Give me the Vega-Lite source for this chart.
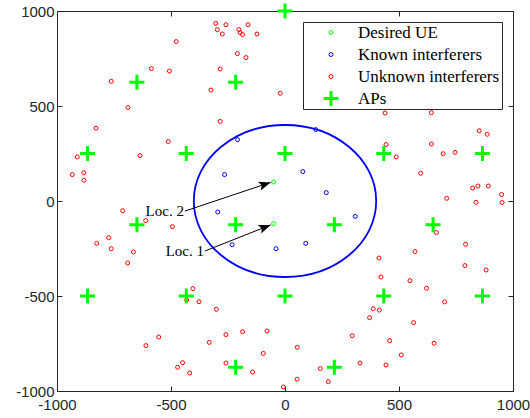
{
  "$schema": "https://vega.github.io/schema/vega-lite/v6.json",
  "autosize": "none",
  "padding": {"left": 57, "top": 11, "right": 17, "bottom": 27},
  "width": 456,
  "height": 380,
  "background": "white",
  "config": {
    "view": {"stroke": "#262626", "strokeWidth": 1},
    "axis": {
      "domain": false, "grid": false, "title": null,
      "tickSize": -5, "tickColor": "#262626", "tickWidth": 1,
      "labelFont": "Liberation Sans", "labelFontSize": 15, "labelColor": "#262626",
      "labelPadding": 8, "labelFlush": false, "labelOverlap": false
    },
    "legend": {
      "orient": "top-right", "offset": 11, "title": null,
      "fillColor": "white", "strokeColor": "#262626", "strokeWidth": 1,
      "padding": 2, "symbolOffset": 17, "labelOffset": 18, "rowPadding": 4, "clipHeight": 17,
      "labelFont": "Liberation Serif", "labelFontSize": 17, "labelColor": "black",
      "labelLimit": 400
    }
  },
  "datasets": {
    "points": [
      {"x": -50, "y": 100, "type": "Desired UE"},
      {"x": -50, "y": -119, "type": "Desired UE"},
      {"x": -208, "y": 323, "type": "Known interferers"},
      {"x": -265, "y": 139, "type": "Known interferers"},
      {"x": 135, "y": 376, "type": "Known interferers"},
      {"x": 78, "y": 155, "type": "Known interferers"},
      {"x": 181, "y": 44, "type": "Known interferers"},
      {"x": 308, "y": -81, "type": "Known interferers"},
      {"x": 91, "y": -223, "type": "Known interferers"},
      {"x": -39, "y": -251, "type": "Known interferers"},
      {"x": -295, "y": -58, "type": "Known interferers"},
      {"x": -232, "y": -230, "type": "Known interferers"},
      {"x": -304, "y": 935, "type": "Unknown interferers"},
      {"x": -297, "y": 902, "type": "Unknown interferers"},
      {"x": -275, "y": 879, "type": "Unknown interferers"},
      {"x": -259, "y": 928, "type": "Unknown interferers"},
      {"x": -202, "y": 902, "type": "Unknown interferers"},
      {"x": -197, "y": 886, "type": "Unknown interferers"},
      {"x": -186, "y": 876, "type": "Unknown interferers"},
      {"x": -162, "y": 928, "type": "Unknown interferers"},
      {"x": -123, "y": 879, "type": "Unknown interferers"},
      {"x": -477, "y": 839, "type": "Unknown interferers"},
      {"x": -209, "y": 776, "type": "Unknown interferers"},
      {"x": -171, "y": 755, "type": "Unknown interferers"},
      {"x": -586, "y": 697, "type": "Unknown interferers"},
      {"x": -507, "y": 684, "type": "Unknown interferers"},
      {"x": -284, "y": 695, "type": "Unknown interferers"},
      {"x": -762, "y": 630, "type": "Unknown interferers"},
      {"x": -325, "y": 584, "type": "Unknown interferers"},
      {"x": -689, "y": 492, "type": "Unknown interferers"},
      {"x": -284, "y": 419, "type": "Unknown interferers"},
      {"x": -829, "y": 383, "type": "Unknown interferers"},
      {"x": -512, "y": 313, "type": "Unknown interferers"},
      {"x": -911, "y": 232, "type": "Unknown interferers"},
      {"x": -636, "y": 239, "type": "Unknown interferers"},
      {"x": -933, "y": 139, "type": "Unknown interferers"},
      {"x": -883, "y": 149, "type": "Unknown interferers"},
      {"x": -882, "y": 109, "type": "Unknown interferers"},
      {"x": -21, "y": 567, "type": "Unknown interferers"},
      {"x": 439, "y": 463, "type": "Unknown interferers"},
      {"x": 642, "y": 465, "type": "Unknown interferers"},
      {"x": 667, "y": 498, "type": "Unknown interferers"},
      {"x": 852, "y": 370, "type": "Unknown interferers"},
      {"x": 887, "y": 351, "type": "Unknown interferers"},
      {"x": 443, "y": 297, "type": "Unknown interferers"},
      {"x": 488, "y": 232, "type": "Unknown interferers"},
      {"x": 642, "y": 300, "type": "Unknown interferers"},
      {"x": 694, "y": 249, "type": "Unknown interferers"},
      {"x": 746, "y": 256, "type": "Unknown interferers"},
      {"x": 595, "y": 146, "type": "Unknown interferers"},
      {"x": 823, "y": 68, "type": "Unknown interferers"},
      {"x": 846, "y": 79, "type": "Unknown interferers"},
      {"x": 892, "y": 79, "type": "Unknown interferers"},
      {"x": 950, "y": 34, "type": "Unknown interferers"},
      {"x": 709, "y": 14, "type": "Unknown interferers"},
      {"x": 838, "y": -7, "type": "Unknown interferers"},
      {"x": 952, "y": -8, "type": "Unknown interferers"},
      {"x": 664, "y": -166, "type": "Unknown interferers"},
      {"x": 792, "y": -228, "type": "Unknown interferers"},
      {"x": 570, "y": -266, "type": "Unknown interferers"},
      {"x": 412, "y": -300, "type": "Unknown interferers"},
      {"x": 789, "y": -340, "type": "Unknown interferers"},
      {"x": 882, "y": -363, "type": "Unknown interferers"},
      {"x": 421, "y": -400, "type": "Unknown interferers"},
      {"x": 548, "y": -419, "type": "Unknown interferers"},
      {"x": 621, "y": -459, "type": "Unknown interferers"},
      {"x": 700, "y": -531, "type": "Unknown interferers"},
      {"x": 387, "y": -567, "type": "Unknown interferers"},
      {"x": 414, "y": -574, "type": "Unknown interferers"},
      {"x": 371, "y": -614, "type": "Unknown interferers"},
      {"x": 564, "y": -640, "type": "Unknown interferers"},
      {"x": 295, "y": -709, "type": "Unknown interferers"},
      {"x": 459, "y": -735, "type": "Unknown interferers"},
      {"x": 654, "y": -749, "type": "Unknown interferers"},
      {"x": 54, "y": -770, "type": "Unknown interferers"},
      {"x": 510, "y": -810, "type": "Unknown interferers"},
      {"x": 329, "y": -853, "type": "Unknown interferers"},
      {"x": 443, "y": -863, "type": "Unknown interferers"},
      {"x": 155, "y": -882, "type": "Unknown interferers"},
      {"x": 53, "y": -938, "type": "Unknown interferers"},
      {"x": 190, "y": -951, "type": "Unknown interferers"},
      {"x": -7, "y": -979, "type": "Unknown interferers"},
      {"x": -79, "y": -684, "type": "Unknown interferers"},
      {"x": -95, "y": -802, "type": "Unknown interferers"},
      {"x": -712, "y": -51, "type": "Unknown interferers"},
      {"x": -611, "y": -103, "type": "Unknown interferers"},
      {"x": -494, "y": -135, "type": "Unknown interferers"},
      {"x": -773, "y": -193, "type": "Unknown interferers"},
      {"x": -826, "y": -223, "type": "Unknown interferers"},
      {"x": -762, "y": -251, "type": "Unknown interferers"},
      {"x": -665, "y": -268, "type": "Unknown interferers"},
      {"x": -690, "y": -326, "type": "Unknown interferers"},
      {"x": -404, "y": -461, "type": "Unknown interferers"},
      {"x": -431, "y": -521, "type": "Unknown interferers"},
      {"x": -377, "y": -530, "type": "Unknown interferers"},
      {"x": -301, "y": -570, "type": "Unknown interferers"},
      {"x": -554, "y": -716, "type": "Unknown interferers"},
      {"x": -610, "y": -761, "type": "Unknown interferers"},
      {"x": -332, "y": -744, "type": "Unknown interferers"},
      {"x": -259, "y": -703, "type": "Unknown interferers"},
      {"x": -186, "y": -688, "type": "Unknown interferers"},
      {"x": -449, "y": -851, "type": "Unknown interferers"},
      {"x": -471, "y": -875, "type": "Unknown interferers"},
      {"x": -418, "y": -905, "type": "Unknown interferers"},
      {"x": -259, "y": -853, "type": "Unknown interferers"},
      {"x": -142, "y": -900, "type": "Unknown interferers"},
      {"x": 0, "y": 1000, "type": "APs"},
      {"x": -649.5, "y": 625, "type": "APs"},
      {"x": -216.5, "y": 625, "type": "APs"},
      {"x": -866, "y": 250, "type": "APs"},
      {"x": -433, "y": 250, "type": "APs"},
      {"x": 0, "y": 250, "type": "APs"},
      {"x": 433, "y": 250, "type": "APs"},
      {"x": 866, "y": 250, "type": "APs"},
      {"x": -649.5, "y": -125, "type": "APs"},
      {"x": -216.5, "y": -125, "type": "APs"},
      {"x": 216.5, "y": -125, "type": "APs"},
      {"x": 649.5, "y": -125, "type": "APs"},
      {"x": -866, "y": -500, "type": "APs"},
      {"x": -433, "y": -500, "type": "APs"},
      {"x": 0, "y": -500, "type": "APs"},
      {"x": 433, "y": -500, "type": "APs"},
      {"x": 866, "y": -500, "type": "APs"},
      {"x": -216.5, "y": -875, "type": "APs"},
      {"x": 216.5, "y": -875, "type": "APs"}
    ],
    "arrows": [
      {"label": "Loc. 2", "x1": -439, "y1": -53, "x2": -63, "y2": 98},
      {"label": "Loc. 1", "x1": -351, "y1": -263, "x2": -63, "y2": -126}
    ]
  },
  "resolve": {"axis": {"x": "independent", "y": "independent"}},
  "layer": [
    {
      "data": {"values": [{"x": 0, "y": 0}]},
      "mark": {"type": "point", "filled": false, "stroke": "#0000FF", "strokeWidth": 1.8, "size": 33270, "opacity": 1,
        "shape": "M1,0C1,0.4603,0.5523,0.8333,0,0.8333C-0.5523,0.8333,-1,0.4603,-1,0C-1,-0.4603,-0.5523,-0.8333,0,-0.8333C0.5523,-0.8333,1,-0.4603,1,0Z"},
      "encoding": {
        "x": {"field": "x", "type": "quantitative", "scale": {"domain": [-1000, 1000], "nice": false, "zero": false},
          "axis": {"orient": "bottom", "values": [-1000, -500, 0, 500, 1000], "labelExpr": "'' + datum.value", "labelPadding": 11}},
        "y": {"field": "y", "type": "quantitative", "scale": {"domain": [-1000, 1000], "nice": false, "zero": false},
          "axis": {"orient": "left", "values": [-1000, -500, 0, 500, 1000], "labelExpr": "'' + datum.value"}}
      }
    },
    {
      "data": {"name": "points"},
      "mark": {"type": "point", "filled": false, "opacity": 1},
      "encoding": {
        "x": {"field": "x", "type": "quantitative", "axis": null},
        "y": {"field": "y", "type": "quantitative", "axis": null},
        "color": {"field": "type", "type": "nominal",
          "scale": {"domain": ["Desired UE", "Known interferers", "Unknown interferers", "APs"], "range": ["#00FF00", "#0000FF", "#FF0000", "#00FF00"]}},
        "shape": {"field": "type", "type": "nominal",
          "scale": {"domain": ["Desired UE", "Known interferers", "Unknown interferers", "APs"], "range": ["circle", "circle", "circle", "M-1,0L1,0M0,-1L0,1"]}},
        "size": {"field": "type", "type": "nominal",
          "scale": {"type": "ordinal", "domain": ["Desired UE", "Known interferers", "Unknown interferers", "APs"], "range": [16, 16, 16, 225]}},
        "strokeWidth": {"field": "type", "type": "nominal",
          "scale": {"type": "ordinal", "domain": ["Desired UE", "Known interferers", "Unknown interferers", "APs"], "range": [1, 1, 1, 3]}},
        "order": {"field": "type", "sort": "descending"}
      }
    },
    {
      "data": {"name": "arrows"},
      "mark": {"type": "rule", "color": "black", "strokeWidth": 1},
      "encoding": {
        "x": {"field": "x1", "type": "quantitative", "axis": null},
        "y": {"field": "y1", "type": "quantitative", "axis": null},
        "x2": {"field": "x2"},
        "y2": {"field": "y2"}
      }
    },
    {
      "data": {"name": "arrows"},
      "transform": [{"filter": "datum.label === 'Loc. 2'"}],
      "mark": {"type": "point", "filled": true, "color": "black", "opacity": 1, "size": 576, "angle": 341.5,
        "shape": "M0,0L-1,-0.38L-0.78,0L-1,0.38Z"},
      "encoding": {
        "x": {"field": "x2", "type": "quantitative", "axis": null},
        "y": {"field": "y2", "type": "quantitative", "axis": null}
      }
    },
    {
      "data": {"name": "arrows"},
      "transform": [{"filter": "datum.label === 'Loc. 1'"}],
      "mark": {"type": "point", "filled": true, "color": "black", "opacity": 1, "size": 576, "angle": 338.4,
        "shape": "M0,0L-1,-0.38L-0.78,0L-1,0.38Z"},
      "encoding": {
        "x": {"field": "x2", "type": "quantitative", "axis": null},
        "y": {"field": "y2", "type": "quantitative", "axis": null}
      }
    },
    {
      "data": {"name": "arrows"},
      "mark": {"type": "text", "align": "right", "baseline": "middle", "dx": -1, "font": "Liberation Serif", "fontSize": 15, "color": "black"},
      "encoding": {
        "x": {"field": "x1", "type": "quantitative", "axis": null},
        "y": {"field": "y1", "type": "quantitative", "axis": null},
        "text": {"field": "label"}
      }
    },
    {
      "data": {"values": [{"x": 0, "y": 0}]},
      "mark": {"type": "point", "opacity": 0},
      "encoding": {
        "x": {"field": "x", "type": "quantitative", "axis": {"orient": "top", "labels": false, "values": [-1000, -500, 0, 500, 1000]}},
        "y": {"field": "y", "type": "quantitative", "axis": {"orient": "right", "labels": false, "values": [-1000, -500, 0, 500, 1000]}}
      }
    }
  ]
}
